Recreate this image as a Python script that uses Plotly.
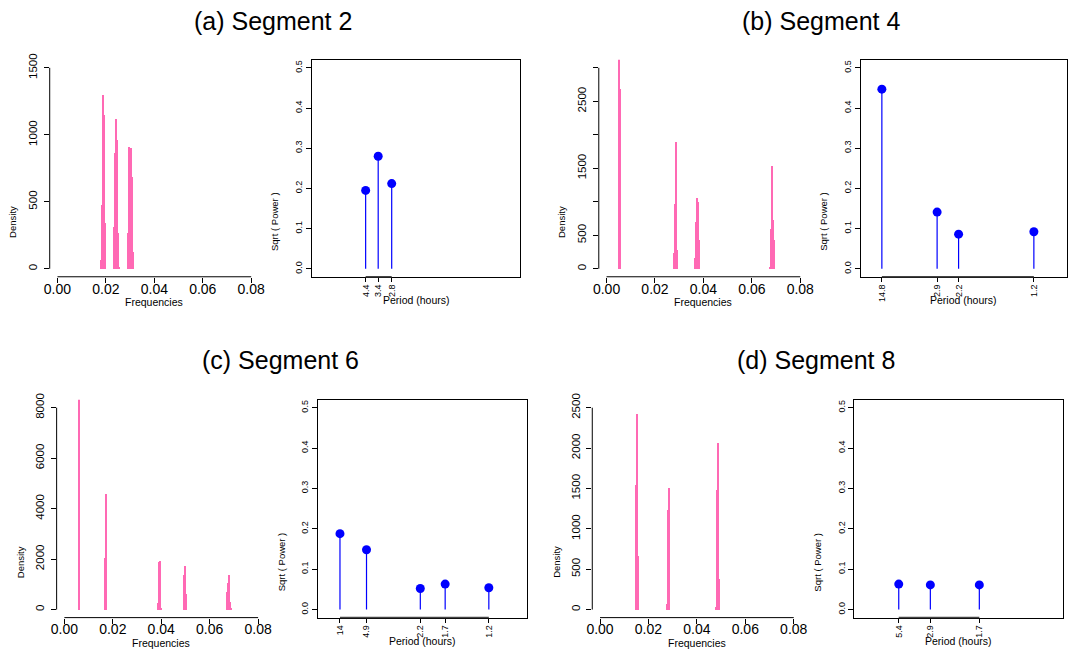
import plotly.graph_objects as go

W, H = 1073, 651

# ---------------- data ----------------
titles = ["(a) Segment 2", "(b) Segment 4", "(c) Segment 6", "(d) Segment 8"]

# histogram bins (frequency, cycles/sample) and densities
seg2_freq = [0.0178, 0.0182, 0.0186, 0.0190, 0.0194,
             0.0233, 0.0237, 0.0241, 0.0245, 0.0249, 0.0253,
             0.0291, 0.0295, 0.0299, 0.0303, 0.0307, 0.0311]
seg2_dens = [67, 481, 1295, 1147, 340,
             313, 868, 1118, 962, 266, 12,
             266, 910, 710, 903, 688, 126]

seg4_freq = [0.0052, 0.0056,
             0.0278, 0.0282, 0.0286, 0.0290,
             0.0363, 0.0367, 0.0371, 0.0375, 0.0379, 0.0383,
             0.0675, 0.0679, 0.0683, 0.0687, 0.0691]
seg4_dens = [3300, 2685,
             237, 974, 1899, 282,
             163, 697, 1053, 994, 430, 178,
             25, 593, 1543, 727, 430]

seg6_freq = [0.0058,
             0.0165, 0.0169,
             0.0385, 0.0389, 0.0393, 0.0397,
             0.0491, 0.0495, 0.0499,
             0.0668, 0.0672, 0.0676, 0.0680, 0.0684, 0.0688]
seg6_dens = [8343,
             2056, 4613,
             264, 1898, 1924, 79,
             1371, 1727, 633,
             105, 712, 1054, 1371, 316, 53]

seg8_freq = [0.0150, 0.0154, 0.0158,
             0.0276, 0.0280, 0.0284, 0.0288,
             0.0482, 0.0486, 0.0490, 0.0494]
seg8_dens = [1549, 2422, 667,
             70, 1236, 1516, 873,
             33, 1483, 2072, 383]

# stem plots: peak frequency, sqrt(power), period labels (hours)
seg2_peak = [0.0191, 0.0243, 0.0299]
seg2_pow = [0.195, 0.280, 0.212]
seg2_per = ["4.4", "3.4", "2.8"]

seg4_peak = [0.0056, 0.0285, 0.0374, 0.0686]
seg4_pow = [0.447, 0.141, 0.086, 0.092]
seg4_per = ["14.8", "2.9", "2.2", "1.2"]

seg6_peak = [0.0060, 0.0170, 0.0393, 0.0496, 0.0677]
seg6_pow = [0.188, 0.148, 0.052, 0.063, 0.054]
seg6_per = ["14", "4.9", "2.2", "1.7", "1.2"]

seg8_peak = [0.0153, 0.0284, 0.0487]
seg8_pow = [0.063, 0.061, 0.061]
seg8_per = ["5.4", "2.9", "1.7"]

hist_ticks_x = [0.0, 0.02, 0.04, 0.06, 0.08]
hist_ticks_x_lbl = ["0.00", "0.02", "0.04", "0.06", "0.08"]
hist_ymax = [1500, 3000, 8000, 2500]
hist_ystep = [500, 500, 2000, 500]
hist_yhide = [[], [1000, 2000, 3000], [], []]
stem_yticks = [0.0, 0.1, 0.2, 0.3, 0.4, 0.5]
stem_ylbl = ["0.0", "0.1", "0.2", "0.3", "0.4", "0.5"]

hist_data = [(seg2_freq, seg2_dens), (seg4_freq, seg4_dens),
             (seg6_freq, seg6_dens), (seg8_freq, seg8_dens)]
stem_data = [(seg2_peak, seg2_pow, seg2_per), (seg4_peak, seg4_pow, seg4_per),
             (seg6_peak, seg6_pow, seg6_per), (seg8_peak, seg8_pow, seg8_per)]

# ---------------- layout geometry (pixels) ----------------
FONT = "Liberation Sans, Arial, Helvetica, sans-serif"
PINK = "#FF69B4"
BLUE = "#0000FF"

rows_px = [(54.3, 273.3), (54.3, 273.3), (397.3, 617.3), (397.3, 617.3)]
hist_px = [(44.2, 255.8), (599.5, 811.1), (51.2, 262.8), (592.9, 804.5)]
stem_px = [(309.3, 520.0), (864.3, 1072.5), (315.3, 527.3), (857.7, 1069.3)]
title_pos = [(270.5, 15), (824.3, 15), (278, 357), (819, 357)]
PXU = 2440.0  # pixels per frequency unit in stem panels


def px_x(p):
    return p / W


def px_y(p):
    return 1 - p / H


def ax(n):
    return "" if n == 1 else str(n)


fig = go.Figure()
layout = dict(width=W, height=H, margin=dict(l=0, r=0, t=0, b=0),
              paper_bgcolor="white", plot_bgcolor="white", showlegend=False,
              font=dict(family=FONT, color="black"), bargap=0)
shapes = []
annotations = []

for i in range(4):
    hx = ax(2 * i + 1)
    sx = ax(2 * i + 2)
    top, bot = rows_px[i]
    ydom = [px_y(bot), px_y(top)]

    # ---- histogram ----
    f, d = hist_data[i]
    fig.add_trace(go.Bar(x=f, y=d, width=0.00042, marker=dict(color=PINK, line=dict(width=0)),
                         xaxis=f"x{hx}", yaxis=f"y{hx}"))
    ymax = hist_ymax[i]
    yv = list(range(0, ymax + 1, hist_ystep[i]))
    yt = ["" if v in hist_yhide[i] else str(v) for v in yv]
    pad = 0.04 * ymax
    layout[f"xaxis{hx}"] = dict(domain=[px_x(hist_px[i][0]), px_x(hist_px[i][1])],
                                range=[-0.0032, 0.0832], anchor=f"y{hx}",
                                tickvals=hist_ticks_x, ticktext=hist_ticks_x_lbl,
                                ticks="outside", ticklen=5, tickcolor="black",
                                ticklabelstandoff=-6,
                                showline=False, showgrid=False, zeroline=False,
                                tickfont=dict(size=14, family=FONT, color="black"))
    layout[f"yaxis{hx}"] = dict(domain=ydom, range=[-pad, ymax + pad], anchor=f"x{hx}",
                                tickvals=yv, ticktext=yt, tickangle=-90,
                                ticks="outside", ticklen=5, tickcolor="black",
                                ticklabelstandoff=2,
                                showline=False, showgrid=False, zeroline=False,
                                tickfont=dict(size=11.5, family=FONT, color="black"))
    shapes.append(dict(type="line", xref=f"x{hx}", yref=f"y{hx} domain",
                       x0=hist_ticks_x[0], x1=hist_ticks_x[-1], y0=0, y1=0,
                       line=dict(color="black", width=1)))
    shapes.append(dict(type="line", xref=f"x{hx} domain", yref=f"y{hx}",
                       x0=0, x1=0, y0=0, y1=ymax, line=dict(color="black", width=1)))
    hcx = (hist_px[i][0] + hist_px[i][1]) / 2
    annotations.append(dict(text="Frequencies", x=px_x(hcx), y=px_y(bot + 25.5),
                            xref="paper", yref="paper", showarrow=False,
                            xanchor="center", yanchor="middle",
                            font=dict(size=10.5, family=FONT, color="black")))
    annotations.append(dict(text="Density", x=px_x(hist_px[i][0] - 37),
                            y=px_y((top + bot) / 2 + 54), xref="paper", yref="paper",
                            showarrow=False, textangle=-90, xanchor="center", yanchor="middle",
                            font=dict(size=9.5, family=FONT, color="black")))

    # ---- stem plot ----
    pk, pw, lbl = stem_data[i]
    lx, ly = [], []
    for xv, yv2 in zip(pk, pw):
        lx += [xv, xv, None]
        ly += [0, yv2, None]
    fig.add_trace(go.Scatter(x=lx, y=ly, mode="lines", line=dict(color=BLUE, width=1.2),
                             xaxis=f"x{sx}", yaxis=f"y{sx}", hoverinfo="skip"))
    fig.add_trace(go.Scatter(x=pk, y=pw, mode="markers",
                             marker=dict(color=BLUE, size=9, line=dict(width=0)),
                             xaxis=f"x{sx}", yaxis=f"y{sx}"))
    sl, sr = stem_px[i]
    xr = [-0.0032, -0.0032 + (sr - sl) / PXU]
    layout[f"xaxis{sx}"] = dict(domain=[px_x(sl), px_x(sr)], range=xr, anchor=f"y{sx}",
                                tickvals=pk, ticktext=lbl, tickangle=-90,
                                ticks="outside", ticklen=4, tickcolor="black",
                                ticklabelstandoff=-1,
                                showline=True, mirror=True, linecolor="black", linewidth=1,
                                showgrid=False, zeroline=False,
                                tickfont=dict(size=9, family=FONT, color="black"))
    layout[f"yaxis{sx}"] = dict(domain=ydom, range=[-0.02, 0.52], anchor=f"x{sx}",
                                tickvals=stem_yticks, ticktext=stem_ylbl, tickangle=-90,
                                ticks="outside", ticklen=5, tickcolor="black",
                                showline=True, mirror=True, linecolor="black", linewidth=1,
                                showgrid=False, zeroline=False,
                                tickfont=dict(size=9, family=FONT, color="black"))
    shapes.append(dict(type="line", xref=f"x{sx}", yref=f"y{sx} domain",
                       x0=pk[0], x1=pk[-1], y0=0, y1=0, line=dict(color="#444", width=1.5)))
    scx = (sl + sr) / 2
    annotations.append(dict(text="Period (hours)", x=px_x(scx), y=px_y(bot + 23.5),
                            xref="paper", yref="paper", showarrow=False,
                            xanchor="center", yanchor="middle",
                            font=dict(size=10.5, family=FONT, color="black")))
    annotations.append(dict(text="Sqrt ( Power )", x=px_x(sl - 37), y=px_y((top + bot) / 2 + 54),
                            xref="paper", yref="paper", showarrow=False, textangle=-90,
                            xanchor="center", yanchor="middle",
                            font=dict(size=9.5, family=FONT, color="black")))

    # ---- panel title ----
    tx, ty = title_pos[i]
    annotations.append(dict(text=titles[i], x=px_x(tx), y=px_y(ty), xref="paper", yref="paper",
                            showarrow=False, xanchor="center", yanchor="middle",
                            font=dict(size=25, family=FONT, color="black")))

layout["shapes"] = shapes
layout["annotations"] = annotations
fig.update_layout(**layout)
fig.write_html("out.html", config={"displayModeBar": False},
               post_script="document.body.style.margin='0px';")
